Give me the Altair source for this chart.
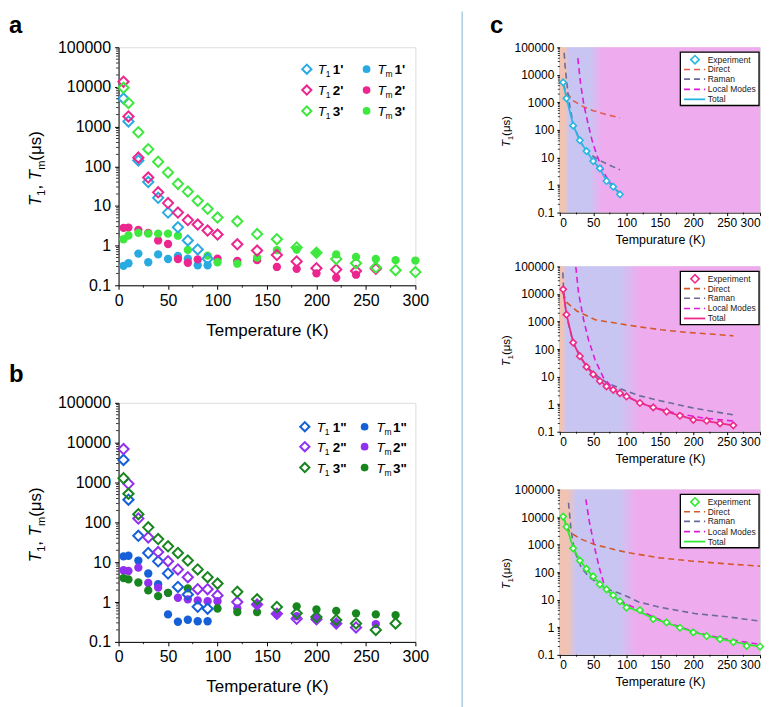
import altair as alt
import pandas as pd

FONT = "Liberation Sans"

# ---------------- data : panel a ----------------
A_T1_1_T = [5, 10, 20, 30, 40, 50, 60, 70, 80, 90]
A_T1_1 = [5100, 1350, 140, 40, 16, 6.8, 2.9, 1.35, 0.8, 0.47]
A_TM_1_T = [5, 10, 20, 30, 40, 50, 60, 70, 80, 90]
A_TM_1 = [0.31, 0.36, 0.63, 0.38, 0.6, 0.46, 0.55, 0.47, 0.32, 0.32]

A_T1_2_T = [5, 10, 20, 30, 40, 50, 60, 70, 80, 90, 100, 120, 140, 160, 180, 200, 220, 240, 260]
A_T1_2 = [13500, 1800, 165, 52, 22, 11.8, 6.8, 4.4, 3.4, 2.4, 1.9, 1.08, 0.75, 0.58, 0.4, 0.27, 0.25, 0.23, 0.26]
A_TM_2_T = [5, 10, 20, 30, 40, 50, 60, 70, 80, 100, 120, 140, 160, 180, 200, 220, 240]
A_TM_2 = [2.8, 2.85, 2.5, 2.1, 1.35, 1.1, 0.46, 0.37, 0.45, 0.47, 0.41, 0.43, 0.29, 0.26, 0.2, 0.155, 0.185]

A_T1_3_T = [5, 10, 20, 30, 40, 50, 60, 70, 80, 90, 100, 120, 140, 160, 180, 200, 220, 240, 260, 280, 300]
A_T1_3 = [9500, 3950, 720, 270, 130, 70, 36, 23, 13.5, 8.5, 5.1, 4.1, 1.95, 1.45, 0.9, 0.66, 0.46, 0.36, 0.28, 0.24, 0.215]
A_TM_3_T = [5, 10, 20, 30, 40, 50, 60, 70, 90, 100, 120, 140, 160, 180, 200, 220, 240, 260, 280, 300]
A_TM_3 = [1.45, 1.8, 2.1, 2.0, 2.0, 2.0, 1.78, 0.78, 0.56, 0.38, 0.35, 0.5, 0.77, 0.8, 0.65, 0.6, 0.52, 0.46, 0.43, 0.42]

# ---------------- data : panel b ----------------
B_T1_1_T = [5, 10, 20, 30, 40, 50, 60, 70, 80, 90]
B_T1_1 = [3700, 370, 46, 17, 10.5, 5.2, 2.4, 1.55, 0.76, 0.68]
B_TM_1_T = [5, 10, 20, 30, 40, 50, 60, 70, 80, 90]
B_TM_1 = [14, 14.5, 11, 5.2, 2.8, 0.49, 0.32, 0.36, 0.33, 0.33]

B_T1_2_T = [5, 10, 20, 30, 40, 50, 60, 70, 80, 90, 100, 120, 140, 160, 180, 200, 220, 240]
B_T1_2 = [6900, 930, 125, 42, 18, 10.6, 6.6, 4.2, 2.1, 2.1, 1.47, 1.0, 0.87, 0.51, 0.38, 0.37, 0.29, 0.23]
B_TM_2_T = [5, 10, 20, 30, 40, 50, 60, 70, 80, 90, 100, 120, 140, 160, 180, 200, 220, 260]
B_TM_2 = [6.3, 6.0, 7.3, 3.0, 2.3, 1.7, 1.28, 1.17, 1.1, 1.05, 1.05, 0.69, 0.87, 0.49, 0.44, 0.42, 0.3, 0.28]

B_T1_3_T = [5, 10, 20, 30, 40, 50, 60, 70, 80, 90, 100, 120, 140, 160, 180, 200, 220, 240, 260, 280]
B_T1_3 = [1280, 520, 160, 75, 38, 25, 17, 11, 6.6, 4.2, 2.9, 1.8, 1.17, 0.75, 0.52, 0.42, 0.355, 0.29, 0.2, 0.29]
B_TM_3_T = [5, 10, 20, 30, 40, 50, 70, 100, 120, 140, 180, 200, 220, 240, 260, 280]
B_TM_3 = [4.0, 3.7, 3.1, 1.96, 1.41, 1.7, 2.2, 0.69, 0.56, 0.56, 0.78, 0.65, 0.6, 0.52, 0.49, 0.47]

# ---------------- data : panel c ----------------
C1_EXP_T = [5, 10, 20, 30, 40, 50, 60, 70, 80, 90]
C1_EXP = [5300, 1400, 143, 42, 17, 7.4, 4.0, 1.4, 0.87, 0.46]
C1_TOT = [4800, 1450, 150, 40, 17, 7.5, 3.9, 1.45, 0.85, 0.47]
C1_DIR_T = [5, 10, 20, 35, 50, 70, 90]
C1_DIR = [4800, 2300, 1150, 700, 500, 360, 272]
C1_RAM_T = [6.5, 8, 10, 13, 16, 20, 30, 42, 57, 72, 90]
C1_RAM = [63000, 20000, 6600, 1500, 500, 178, 39, 15, 8.5, 5.6, 3.6]
C1_LOC_T = [27, 31, 36, 42, 48, 55, 62, 69, 79, 90]
C1_LOC = [40000, 5000, 824, 180, 45, 13, 4.9, 2.1, 0.92, 0.5]

C2_EXP_T = [5, 10, 20, 30, 40, 50, 60, 70, 80, 90, 100, 120, 140, 160, 180, 200, 220, 240, 260]
C2_EXP = [14700, 1770, 171, 55, 22.5, 12, 6.9, 4.4, 3.3, 2.5, 1.9, 1.1, 0.76, 0.54, 0.38, 0.27, 0.25, 0.2, 0.17]
C2_TOT = [13000, 1800, 170, 55, 23, 12, 7, 4.5, 3.3, 2.5, 1.95, 1.1, 0.76, 0.54, 0.38, 0.28, 0.24, 0.2, 0.17]
C2_DIR_T = [5, 10, 26, 53, 92, 122, 152, 191, 231, 260]
C2_DIR = [11000, 5000, 2350, 1160, 805, 625, 500, 400, 345, 300]
C2_RAM_T = [4.5, 6, 9.4, 20, 30, 40, 50, 70, 100, 120, 150, 200, 260]
C2_RAM = [60000, 11000, 1800, 180, 57, 25, 13.5, 6, 2.95, 2.0, 1.34, 0.72, 0.41]
C2_LOC_T = [24, 28, 35.6, 43, 53, 65, 82.5, 102, 132, 171, 216, 260]
C2_LOC = [95000, 11000, 1170, 215, 40, 9.5, 3.1, 1.78, 0.87, 0.49, 0.31, 0.245]

C3_EXP_T = [5, 10, 20, 30, 40, 50, 60, 70, 80, 90, 100, 120, 140, 160, 180, 200, 220, 240, 260, 280, 300]
C3_EXP = [10400, 4400, 730, 263, 132, 70, 36, 23.8, 14.5, 8.8, 5.2, 4.2, 1.98, 1.5, 0.96, 0.65, 0.48, 0.37, 0.29, 0.21, 0.2]
C3_TOT = [9800, 4600, 760, 270, 130, 68, 38, 23, 14, 8.8, 5.6, 3.6, 2.1, 1.45, 0.98, 0.68, 0.5, 0.38, 0.3, 0.24, 0.2]
C3_DIR_T = [5, 10, 15, 32, 52, 100, 150, 200, 250, 300]
C3_DIR = [10000, 5000, 2760, 1580, 1000, 520, 330, 250, 200, 165]
C3_RAM_T = [13, 17, 22, 32, 44, 69, 93, 118, 152, 202, 251, 300]
C3_RAM = [33000, 3160, 600, 150, 66, 25, 16, 8.3, 5.2, 3.16, 2.4, 1.67]
C3_LOC_T = [39, 44, 52, 59, 66, 79, 93, 120, 143, 172, 202, 241, 300]
C3_LOC = [44000, 7300, 800, 151, 38, 14.5, 8.3, 4.2, 2.2, 1.2, 0.69, 0.4, 0.24]

X_TICKS = [0, 50, 100, 150, 200, 250, 300]
X_MINOR = [25, 75, 125, 175, 225, 275]
Y_TICKS = [0.1, 1, 10, 100, 1000, 10000, 100000]
Y_MINOR = [m * 10.0 ** e for e in range(-1, 5) for m in range(2, 10)]

COL_A = ["#29abe2", "#ec268f", "#3ee83e"]
COL_B = ["#1560d8", "#9130ee", "#17861f"]
LAB_A = ["1'", "2'", "3'"]
LAB_B = ['1"', '2"', '3"']
C_MAIN = ["#29b6e3", "#ee2a8a", "#33e833"]
C_DIRECT = ["#e65a4a", "#d4582a", "#d4582a"]
C_RAMAN = "#6b6b9b"
C_LOCAL = "#e01ad8"
LEG_C = ["Experiment", "Direct", "Raman", "Local Modes", "Total"]

DUMMY = pd.DataFrame({"d": [0]})

CW = {"T": 0.611, "1": 0.556, ",": 0.278, " ": 0.278, "(": 0.333, ")": 0.333,
      "μ": 0.576, "s": 0.5, "m": 0.833}


def tw(s, fs):
    return sum(CW.get(c, 0.55) for c in s) * fs


def deco():
    return alt.Chart(DUMMY)


def text_at(x, y, txt, size, color="black", style="normal", weight="normal",
            angle=0, align="left"):
    return deco().mark_text(text=txt, font=FONT, fontSize=size, fontStyle=style,
                            fontWeight=weight, color=color, angle=angle, align=align,
                            baseline="alphabetic").encode(x=alt.value(x), y=alt.value(y))


def ytitle(pieces, xb, yc, fs):
    sfs = fs * 0.65
    widths = [tw(t, sfs if k == "sub" else fs) for t, k in pieces]
    y = yc + sum(widths) / 2
    out = []
    for (t, k), w in zip(pieces, widths):
        if k == "sub":
            out.append(text_at(xb + fs * 0.24, y, t, sfs, angle=270))
        else:
            out.append(text_at(xb, y, t, fs, style="italic" if k == "it" else "normal", angle=270))
        y -= w
    return out


def encs(lab_fs, title, title_fs, tick, lpad, tpad, flush=False):
    x = alt.X("T:Q", scale=alt.Scale(domain=[0, 300], nice=False, zero=False),
              axis=alt.Axis(values=X_TICKS, title=title, labelFontSize=lab_fs, titleFontSize=title_fs,
                            tickSize=tick, labelPadding=lpad, titlePadding=tpad, labelFlush=flush,
                            labelOverlap=False, grid=False, labelFont=FONT, titleFont=FONT,
                            titleFontWeight="normal", domainColor="black", tickColor="black",
                            labelColor="black", titleColor="black"))
    y = alt.Y("v:Q", scale=alt.Scale(type="log", domain=[0.1, 100000], nice=False),
              axis=alt.Axis(values=Y_TICKS, format="~g", title=None, labelFontSize=lab_fs,
                            tickSize=tick, labelPadding=lpad + 1, labelOverlap=False, grid=False,
                            labelFont=FONT, domainColor="black", tickColor="black", labelColor="black"))
    return x, y


def minor_ticks(x, y, H, size):
    ym = alt.Chart(pd.DataFrame({"v": Y_MINOR})).mark_tick(
        color="black", size=size, thickness=0.8, opacity=1).encode(y=y, x=alt.value(-size / 2))
    xm = alt.Chart(pd.DataFrame({"T": X_MINOR})).mark_tick(
        color="black", size=size, thickness=0.8, opacity=1).encode(x=x, y=alt.value(H + size / 2))
    return [ym, xm]


def df(T, V):
    return pd.DataFrame({"T": T, "v": V})


def panel_ab(letter, letter_y, t1, tm, cols, labs, W, H, legend_rows, legend_cols):
    x, y = encs(16, "Temperature (K)", 17, 4, 3, 14)
    layers = []
    for (T, V), c in zip(tm, cols):
        layers.append(alt.Chart(df(T, V)).mark_point(shape="circle", filled=True, size=70,
                                                     color=c, opacity=1).encode(x=x, y=y))
    for (T, V), c in zip(t1, cols):
        layers.append(alt.Chart(df(T, V)).mark_point(shape="diamond", filled=False, size=105,
                                                     strokeWidth=2, color=c, opacity=1).encode(x=x, y=y))
    layers += minor_ticks(x, y, H, 2.5)
    # legend
    (sx1, tx1, ux1, lx1), (sx2, tx2, ux2, lx2) = legend_cols
    for ry, c, lab in zip(legend_rows, cols, labs):
        layers.append(deco().mark_point(shape="diamond", filled=False, size=85, strokeWidth=2,
                                        color=c, opacity=1).encode(x=alt.value(sx1), y=alt.value(ry)))
        layers.append(text_at(tx1, ry + 5, "T", 13.5, style="italic"))
        layers.append(text_at(ux1, ry + 8, "1", 8.5))
        layers.append(text_at(lx1, ry + 5, lab, 13.5, weight="bold"))
        layers.append(deco().mark_point(shape="circle", filled=True, size=60,
                                        color=c, opacity=1).encode(x=alt.value(sx2), y=alt.value(ry)))
        layers.append(text_at(tx2, ry + 5, "T", 13.5, style="italic"))
        layers.append(text_at(ux2, ry + 8, "m", 8.5))
        layers.append(text_at(lx2, ry + 5, lab, 13.5, weight="bold"))
    layers += ytitle([("T", "it"), ("1", "sub"), (", ", "n"), ("T", "it"), ("m", "sub"), (" (μs)", "n")],
                     -78, H / 2, 17)
    layers.append(text_at(-110, letter_y, letter, 24, weight="bold"))
    return alt.layer(*layers).properties(width=W, height=H)


def grad(stops):
    return alt.LinearGradient(gradient="linear", x1=0, x2=1, y1=0, y2=0,
                              stops=[alt.GradientStop(offset=o, color=c) for o, c in stops])


PEACH = "#f1c3b3"
LAV = "#c9c5f3"
PINK = "#eeacee"


def panel_c(idx, xtitle, exp, tot, dire, ram, loc, stops, extra=None):
    W, H = 201, 166
    x, y = encs(12, xtitle, 12.5, 3, 2, 5, flush=True)
    main = C_MAIN[idx]
    layers = [deco().mark_rect(fill=grad(stops)).encode(
        x=alt.value(0), x2=alt.value(W), y=alt.value(0), y2=alt.value(H))]
    layers.append(alt.Chart(df(*dire)).mark_line(color=C_DIRECT[idx], strokeWidth=1.6,
                                                 strokeDash=[6, 4], clip=True).encode(x=x, y=y))
    layers.append(alt.Chart(df(*ram)).mark_line(color=C_RAMAN, strokeWidth=1.6,
                                                strokeDash=[6, 4], clip=True).encode(x=x, y=y))
    layers.append(alt.Chart(df(*loc)).mark_line(color=C_LOCAL, strokeWidth=1.6,
                                                strokeDash=[6, 4], clip=True).encode(x=x, y=y))
    layers.append(alt.Chart(df(*tot)).mark_line(color=main, strokeWidth=1.8, clip=True).encode(x=x, y=y))
    layers.append(alt.Chart(df(*exp)).mark_point(shape="diamond", filled=True, fill="white",
                                                 stroke=main, strokeWidth=1.6, size=42,
                                                 opacity=1).encode(x=x, y=y))
    layers += minor_ticks(x, y, H, 2)
    # legend box
    layers.append(deco().mark_rect(fill="white", stroke="black", strokeWidth=1.3).encode(
        x=alt.value(121), x2=alt.value(200), y=alt.value(5), y2=alt.value(58.5)))
    rows = [12.5, 22.3, 32, 42.3, 52.3]
    layers.append(deco().mark_point(shape="diamond", filled=True, fill="white", stroke=main,
                                    strokeWidth=1.6, size=70, opacity=1).encode(
        x=alt.value(135.7), y=alt.value(rows[0])))
    for r, c, dash in zip(rows[1:], [C_DIRECT[idx], C_RAMAN, C_LOCAL, main], [True, True, True, False]):
        m = deco().mark_rule(color=c, strokeWidth=1.6, strokeDash=[6, 4]) if dash else \
            deco().mark_rule(color=c, strokeWidth=1.8)
        layers.append(m.encode(x=alt.value(124.7), x2=alt.value(146), y=alt.value(r)))
    for r, t in zip(rows, LEG_C):
        layers.append(text_at(148.5, r + 3, t, 8.5, color="#222222"))
    layers += ytitle([("T", "it"), ("1", "sub"), (" (μs)", "n")], -50, H / 2, 11.5)
    if extra:
        layers += extra
    return alt.layer(*layers).properties(width=W, height=H)


a = panel_ab("a", -14,
             [(A_T1_1_T, A_T1_1), (A_T1_2_T, A_T1_2), (A_T1_3_T, A_T1_3)],
             [(A_TM_1_T, A_TM_1), (A_TM_2_T, A_TM_2), (A_TM_3_T, A_TM_3)],
             COL_A, LAB_A, 298, 239, [22, 43, 64],
             [(189, 200, 208, 215), (249, 260, 268, 277)])
b = panel_ab("b", -21,
             [(B_T1_1_T, B_T1_1), (B_T1_2_T, B_T1_2), (B_T1_3_T, B_T1_3)],
             [(B_TM_1_T, B_TM_1), (B_TM_2_T, B_TM_2), (B_TM_3_T, B_TM_3)],
             COL_B, LAB_B, 298, 240, [24, 44, 65],
             [(187, 199, 207, 215), (247, 259, 267, 275.5)])

c1 = panel_c(0, "Tempurature (K)", (C1_EXP_T, C1_EXP), (C1_EXP_T, C1_TOT), (C1_DIR_T, C1_DIR),
             (C1_RAM_T, C1_RAM), (C1_LOC_T, C1_LOC),
             [(0, PEACH), (0.025, PEACH), (0.045, LAV), (0.15, LAV), (0.21, PINK), (1, PINK)],
             extra=[text_at(-70, -14, "c", 24, weight="bold")])
divider = deco().mark_rule(color="#a9cfdc", strokeWidth=1.5).encode(
    x=alt.value(-98), y=alt.value(-256), y2=alt.value(443))
c2 = panel_c(1, "Temperature (K)", (C2_EXP_T, C2_EXP), (C2_EXP_T, C2_TOT), (C2_DIR_T, C2_DIR),
             (C2_RAM_T, C2_RAM), (C2_LOC_T, C2_LOC),
             [(0, PEACH), (0.015, PEACH), (0.03, LAV), (0.3, LAV), (0.4, PINK), (1, PINK)],
             extra=[divider])
c3 = panel_c(2, "Temperature (K)", (C3_EXP_T, C3_EXP), (C3_EXP_T, C3_TOT), (C3_DIR_T, C3_DIR),
             (C3_RAM_T, C3_RAM), (C3_LOC_T, C3_LOC),
             [(0, PEACH), (0.04, PEACH), (0.08, LAV), (0.3, LAV), (0.38, PINK), (1, PINK)])

left = alt.vconcat(a, b, spacing=118, bounds="flush")
right = alt.vconcat(c1, alt.vconcat(c2, c3, spacing=58, bounds="flush"), spacing=54, bounds="flush")
chart = alt.hconcat(left, right, spacing=443, bounds="flush").properties(
    padding={"left": 0, "top": 0, "right": 0, "bottom": 0}
).configure_view(stroke="black", strokeWidth=1.2).configure(background="white")

chart.save("out.html", embed_options={"renderer": "svg", "actions": False})
